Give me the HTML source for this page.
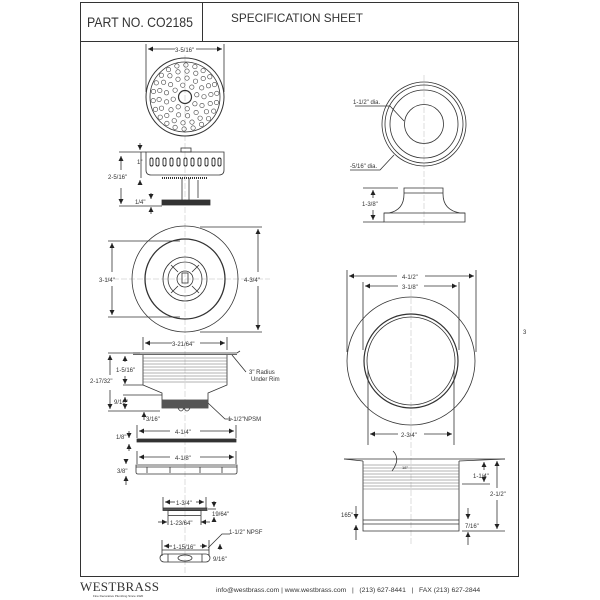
<!DOCTYPE html>
<html><head><meta charset="utf-8"><style>
html,body{margin:0;padding:0;background:#fff;}
svg{display:block;}
text{font-family:"Liberation Sans",sans-serif;fill:#333;}
</style></head><body>
<svg id="root" width="600" height="600" viewBox="0 0 600 600" xmlns="http://www.w3.org/2000/svg">
<defs>
<marker id="a" markerWidth="6" markerHeight="6" refX="5" refY="3" orient="auto-start-reverse" markerUnits="userSpaceOnUse"><path d="M0,0.5 L5,3 L0,5.5z" fill="#222"/></marker>
</defs>
<g fill="none" stroke="#333" stroke-width="1">
<rect x="80.5" y="2.5" width="438" height="574"/>
<line x1="80" y1="41.5" x2="518" y2="41.5"/>
<line x1="202.5" y1="2" x2="202.5" y2="41"/>
</g>
<text x="87" y="27" font-size="14" textLength="106" lengthAdjust="spacingAndGlyphs">PART NO. CO2185</text>
<text x="231" y="22" font-size="12" textLength="132" lengthAdjust="spacingAndGlyphs">SPECIFICATION SHEET</text>

<g stroke="#bbb" stroke-width="0.5" stroke-dasharray="6,2">
<line x1="185" y1="55" x2="185" y2="575"/>
<line x1="424" y1="75" x2="424" y2="225"/>
<line x1="411" y1="290" x2="411" y2="545"/>
<line x1="105" y1="279" x2="270" y2="279"/>
</g>

<g fill="none" stroke="#333" stroke-width="0.8">
<line x1="146" y1="44" x2="146" y2="92"/><line x1="224" y1="44" x2="224" y2="92"/>
<line x1="148" y1="49" x2="175" y2="49" marker-start="url(#a)"/><line x1="196" y1="49" x2="222" y2="49" marker-end="url(#a)"/>
<circle cx="185" cy="97" r="39" stroke-width="1"/>
<circle cx="185" cy="97" r="35"/>
<circle cx="185" cy="97" r="6.5" stroke-width="1.2"/>
</g>
<g fill="none" stroke="#444" stroke-width="0.6" id="holes"></g>
<text x="175" y="52" font-size="6">3-5/16"</text>

<g fill="none" stroke="#333" stroke-width="0.8">
<rect x="181" y="148" width="10" height="4"/>
<path d="M146,152 H224 V170 Q224,175 219,175 H151 Q146,175 146,170 Z"/>
<line x1="162" y1="178" x2="208" y2="178" stroke-width="2" stroke-dasharray="1,1"/>
<line x1="182" y1="178" x2="182" y2="200"/><line x1="189" y1="178" x2="189" y2="200"/>
<rect x="162" y="200" width="48" height="5" fill="#333"/>
<line x1="119" y1="152" x2="146" y2="152"/><line x1="119" y1="206" x2="162" y2="206"/>
<line x1="141" y1="152" x2="141" y2="178"/>
<line x1="121" y1="156" x2="121" y2="170" marker-start="url(#a)"/><line x1="121" y1="188" x2="121" y2="204" marker-end="url(#a)"/>
<line x1="140" y1="143" x2="140" y2="150" marker-end="url(#a)"/>
<line x1="140" y1="185" x2="140" y2="180" marker-end="url(#a)"/>
<line x1="151" y1="193" x2="151" y2="199" marker-end="url(#a)"/>
<line x1="151" y1="214" x2="151" y2="207" marker-end="url(#a)"/>
<line x1="198" y1="180" x2="198" y2="198"/>
</g>
<g fill="#fff" stroke="#222" stroke-width="0.9">
<rect x="150" y="158" width="3" height="8" rx="1.5"/><rect x="156" y="158" width="3" height="8" rx="1.5"/><rect x="163" y="158" width="3" height="8" rx="1.5"/><rect x="170" y="158" width="3" height="8" rx="1.5"/><rect x="177" y="158" width="3" height="8" rx="1.5"/><rect x="184" y="158" width="3" height="8" rx="1.5"/><rect x="191" y="158" width="3" height="8" rx="1.5"/><rect x="198" y="158" width="3" height="8" rx="1.5"/><rect x="205" y="158" width="3" height="8" rx="1.5"/><rect x="212" y="158" width="3" height="8" rx="1.5"/><rect x="218" y="158" width="3" height="8" rx="1.5"/>
</g>
<text x="137" y="164" font-size="6">1"</text>
<text x="108" y="179" font-size="6">2-5/16"</text>
<text x="135" y="204" font-size="6">1/4"</text>

<g fill="none" stroke="#333" stroke-width="0.8">
<circle cx="185" cy="279" r="53"/>
<circle cx="185" cy="279" r="40" stroke-width="1.3"/>
<circle cx="185" cy="279" r="22"/>
<circle cx="185" cy="279" r="17"/>
<circle cx="185" cy="279" r="8"/>
<rect x="182" y="273" width="6" height="10"/>
<path d="M171,265 L178,272 M199,265 L192,272 M171,293 L178,286 M199,293 L192,286"/>
<line x1="108" y1="241" x2="180" y2="241"/><line x1="108" y1="317" x2="180" y2="317"/>
<line x1="200" y1="227" x2="262" y2="227"/><line x1="200" y1="332" x2="262" y2="332"/>
<line x1="112" y1="243" x2="112" y2="272" marker-start="url(#a)"/><line x1="112" y1="286" x2="112" y2="315" marker-end="url(#a)"/>
<line x1="258" y1="229" x2="258" y2="272" marker-start="url(#a)"/><line x1="258" y1="286" x2="258" y2="330" marker-end="url(#a)"/>
</g>
<text x="99" y="282" font-size="6">3-1/4"</text>
<text x="244" y="282" font-size="6">4-3/4"</text>

<g fill="none" stroke="#333" stroke-width="0.8">
<path d="M133,353 H237 L240,351"/>
<line x1="133" y1="354.5" x2="237" y2="354.5"/>
<path d="M143,355 V385 L162,393 V408 H208 V393 L227,385 V355"/>
<line x1="162" y1="400" x2="208" y2="400"/>
<path d="M178,408 q3,6 6,0 q3,6 6,0"/>
<line x1="143" y1="337" x2="143" y2="350"/><line x1="227" y1="337" x2="227" y2="350"/>
<line x1="145" y1="343" x2="172" y2="343" marker-start="url(#a)"/><line x1="200" y1="343" x2="225" y2="343" marker-end="url(#a)"/>
<line x1="108" y1="353" x2="140" y2="353"/><line x1="108" y1="411" x2="160" y2="411"/>
<line x1="123" y1="385" x2="143" y2="385"/><line x1="123" y1="395" x2="162" y2="395"/>
<line x1="110" y1="355" x2="110" y2="375" marker-start="url(#a)"/><line x1="110" y1="390" x2="110" y2="409" marker-end="url(#a)"/>
<line x1="125" y1="356" x2="125" y2="362" marker-start="url(#a)"/><line x1="125" y1="376" x2="125" y2="384" marker-end="url(#a)"/>
<line x1="125" y1="397" x2="125" y2="400" marker-start="url(#a)"/><line x1="125" y1="405" x2="125" y2="409" marker-end="url(#a)"/>
<line x1="144" y1="412" x2="144" y2="420" marker-start="url(#a)"/>
<path d="M232,355 L246,372"/>
<path d="M208,403 L225,419 H232"/>
</g>
<g stroke="#666" stroke-width="0.5">
<line x1="143" y1="358" x2="227" y2="358"/><line x1="143" y1="361" x2="227" y2="361"/><line x1="143" y1="364" x2="227" y2="364"/><line x1="143" y1="367" x2="227" y2="367"/><line x1="143" y1="370" x2="227" y2="370"/><line x1="143" y1="373" x2="227" y2="373"/><line x1="143" y1="376" x2="227" y2="376"/><line x1="143" y1="379" x2="227" y2="379"/><line x1="143" y1="382" x2="227" y2="382"/>
</g>
<rect x="162" y="400" width="46" height="8" fill="#555"/>
<text x="172" y="346" font-size="6">3-21/64"</text>
<text x="116" y="372" font-size="6">1-5/16"</text>
<text x="90" y="383" font-size="6">2-17/32"</text>
<text x="114" y="404" font-size="6">9/16"</text>
<text x="146" y="421" font-size="6">3/16"</text>
<text x="249" y="374" font-size="6">3" Radius</text>
<text x="251" y="381" font-size="6">Under Rim</text>
<text x="228" y="421" font-size="6">1-1/2"NPSM</text>

<g fill="none" stroke="#333" stroke-width="0.8">
<line x1="137" y1="425" x2="137" y2="438"/><line x1="236" y1="425" x2="236" y2="438"/>
<line x1="139" y1="431" x2="170" y2="431" marker-start="url(#a)"/><line x1="200" y1="431" x2="234" y2="431" marker-end="url(#a)"/>
<rect x="137" y="439" width="99" height="3" fill="#333"/>
<line x1="129" y1="431" x2="129" y2="438" marker-end="url(#a)"/>
<line x1="129" y1="451" x2="129" y2="444" marker-end="url(#a)"/>
<line x1="137" y1="451" x2="137" y2="464"/><line x1="236" y1="451" x2="236" y2="464"/>
<line x1="139" y1="457" x2="170" y2="457" marker-start="url(#a)"/><line x1="200" y1="457" x2="234" y2="457" marker-end="url(#a)"/>
<path d="M136,465 H237 V472 Q237,474 235,474 H138 Q136,474 136,472 Z"/>
<line x1="136" y1="467" x2="237" y2="467"/>
<path d="M147,467 v6 M170,467 v6 M200,467 v6 M222,467 v6"/>
<line x1="126" y1="459" x2="126" y2="464" marker-end="url(#a)"/>
<line x1="126" y1="485" x2="126" y2="476" marker-end="url(#a)"/>
</g>
<text x="116" y="439" font-size="6">1/8"</text>
<text x="175" y="434" font-size="6">4-1/4"</text>
<text x="175" y="460" font-size="6">4-1/8"</text>
<text x="117" y="473" font-size="6">3/8"</text>

<g fill="none" stroke="#333" stroke-width="0.8">
<line x1="163" y1="497" x2="163" y2="508"/><line x1="206" y1="497" x2="206" y2="508"/>
<line x1="165" y1="502" x2="175" y2="502" marker-start="url(#a)"/><line x1="196" y1="502" x2="204" y2="502" marker-end="url(#a)"/>
<rect x="163" y="508" width="44" height="2.5" fill="#555"/>
<rect x="168" y="510.5" width="33" height="5"/>
<line x1="208" y1="509" x2="216" y2="509"/>
<line x1="214" y1="501" x2="214" y2="507" marker-end="url(#a)"/>
<line x1="214" y1="521" x2="214" y2="517" marker-end="url(#a)"/>
<line x1="158" y1="522" x2="167" y2="522" marker-end="url(#a)"/><line x1="210" y1="522" x2="201" y2="522" marker-end="url(#a)"/>
<line x1="168" y1="516" x2="168" y2="525"/><line x1="201" y1="516" x2="201" y2="525"/>
<line x1="162" y1="540" x2="162" y2="556"/><line x1="209" y1="540" x2="209" y2="556"/>
<line x1="164" y1="546" x2="172" y2="546" marker-start="url(#a)"/><line x1="200" y1="546" x2="207" y2="546" marker-end="url(#a)"/>
<line x1="162" y1="550" x2="209" y2="550"/>
<path d="M208,548 L222,534 H230"/>
<line x1="220" y1="544" x2="220" y2="550" marker-start="url(#a)"/>
<rect x="160" y="554" width="50" height="8" rx="4"/>
<ellipse cx="185" cy="558" rx="7" ry="3"/>
<path d="M168,554 v8 M202,554 v8"/>
</g>
<text x="176" y="505" font-size="6">1-3/4"</text>
<text x="212" y="516" font-size="6">19/64"</text>
<text x="170" y="525" font-size="6">1-23/64"</text>
<text x="229" y="534" font-size="6">1-1/2" NPSF</text>
<text x="173" y="549" font-size="6">1-15/16"</text>
<text x="213" y="561" font-size="6">9/16"</text>

<g fill="none" stroke="#333" stroke-width="0.8">
<circle cx="424" cy="124" r="42"/>
<circle cx="424" cy="124" r="39"/>
<circle cx="424" cy="124" r="34"/>
<circle cx="424" cy="124" r="19.5"/>
<path d="M355,106 H390 L404,121"/>
<path d="M350,170 H380 L394,155"/>
<path d="M404,194 V188 H443 V194 Q443,210 460,213 H465 V222 H384 V213 H389 Q404,210 404,194 Z"/>
<line x1="384" y1="213" x2="465" y2="213"/>
<line x1="404" y1="193" x2="443" y2="193"/>
<line x1="363" y1="188" x2="398" y2="188"/><line x1="363" y1="222" x2="384" y2="222"/>
<line x1="373" y1="190" x2="373" y2="198" marker-start="url(#a)"/><line x1="373" y1="210" x2="373" y2="220" marker-end="url(#a)"/>
</g>
<text x="353" y="104" font-size="6">1-1/2" dia.</text>
<text x="350" y="168" font-size="6">-5/16" dia.</text>
<text x="362" y="206" font-size="6">1-3/8"</text>

<g fill="none" stroke="#333" stroke-width="0.8">
<circle cx="411" cy="361" r="64"/>
<circle cx="411" cy="361" r="47" stroke-width="1.2"/>
<circle cx="411" cy="361" r="44"/>
<line x1="347" y1="270" x2="347" y2="352"/><line x1="476" y1="270" x2="476" y2="352"/>
<line x1="363" y1="282" x2="363" y2="350"/><line x1="459" y1="282" x2="459" y2="350"/>
<line x1="368" y1="370" x2="368" y2="445"/><line x1="454" y1="370" x2="454" y2="445"/>
<line x1="349" y1="276" x2="397" y2="276" marker-start="url(#a)"/><line x1="425" y1="276" x2="474" y2="276" marker-end="url(#a)"/>
<line x1="365" y1="286" x2="398" y2="286" marker-start="url(#a)"/><line x1="424" y1="286" x2="457" y2="286" marker-end="url(#a)"/>
<line x1="370" y1="434" x2="398" y2="434" marker-start="url(#a)"/><line x1="424" y1="434" x2="452" y2="434" marker-end="url(#a)"/>
<path d="M344,459 L363,461 M459,461 L505,459"/>
<line x1="344" y1="459" x2="505" y2="459"/>
<path d="M363,461 V531 H459 V461"/>
<line x1="363" y1="520" x2="459" y2="520"/>
<line x1="363" y1="524" x2="459" y2="524"/>
<path d="M393,451 q8,8 -1,20"/>
<line x1="462" y1="484" x2="490" y2="484"/><line x1="462" y1="531" x2="505" y2="531"/>
<line x1="484" y1="462" x2="484" y2="470" marker-start="url(#a)"/><line x1="484" y1="475" x2="484" y2="482" marker-end="url(#a)"/>
<line x1="497" y1="461" x2="497" y2="488" marker-start="url(#a)"/><line x1="497" y1="500" x2="497" y2="529" marker-end="url(#a)"/>
<line x1="468" y1="508" x2="468" y2="519" marker-end="url(#a)"/>
<line x1="468" y1="545" x2="468" y2="532" marker-end="url(#a)"/>
<line x1="356" y1="506" x2="356" y2="519" marker-end="url(#a)"/>
<line x1="356" y1="540" x2="356" y2="525" marker-end="url(#a)"/>
</g>
<g stroke="#666" stroke-width="0.5">
<line x1="363" y1="465" x2="459" y2="465"/><line x1="363" y1="468" x2="459" y2="468"/><line x1="363" y1="471" x2="459" y2="471"/><line x1="363" y1="474" x2="459" y2="474"/><line x1="363" y1="477" x2="459" y2="477"/><line x1="363" y1="480" x2="459" y2="480"/><line x1="363" y1="483" x2="459" y2="483"/><line x1="363" y1="486" x2="459" y2="486"/><line x1="363" y1="489" x2="459" y2="489"/>
</g>
<text x="402" y="279" font-size="6">4-1/2"</text>
<text x="402" y="289" font-size="6">3-1/8"</text>
<text x="401" y="437" font-size="6">2-3/4"</text>
<text x="402" y="469" font-size="4">18°</text>
<text x="473" y="478" font-size="6">1-1/4"</text>
<text x="490" y="496" font-size="6">2-1/2"</text>
<text x="341" y="517" font-size="6">165"</text>
<text x="465" y="528" font-size="6">7/16"</text>
<text x="523" y="334" font-size="6">3</text>

<text x="80" y="591" font-size="13" style="font-family:'Liberation Serif',serif;letter-spacing:0.3px">WESTBRASS</text>
<text x="93" y="597" font-size="3">Fine Decorative Plumbing Since 1920</text>
<text x="216" y="592" font-size="6.8">info@westbrass.com | www.westbrass.com &#160;&#160;| &#160;&#160;(213) 627-8441 &#160;&#160;| &#160;&#160;FAX (213) 627-2844</text>
</svg>
<script>
(function(){var g=document.getElementById('holes');if(!g)return;var ns='http://www.w3.org/2000/svg';
var rings=[[12,8],[19,13],[26,18],[32,22]];
for(var k=0;k<rings.length;k++){var r=rings[k];for(var i=0;i<r[1];i++){var t=i*2*Math.PI/r[1]+r[0]*0.05;var c=document.createElementNS(ns,'circle');c.setAttribute('cx',(185+r[0]*Math.cos(t)).toFixed(1));c.setAttribute('cy',(97+r[0]*Math.sin(t)).toFixed(1));c.setAttribute('r','2.2');g.appendChild(c);}}
})();
</script>
</body></html>
